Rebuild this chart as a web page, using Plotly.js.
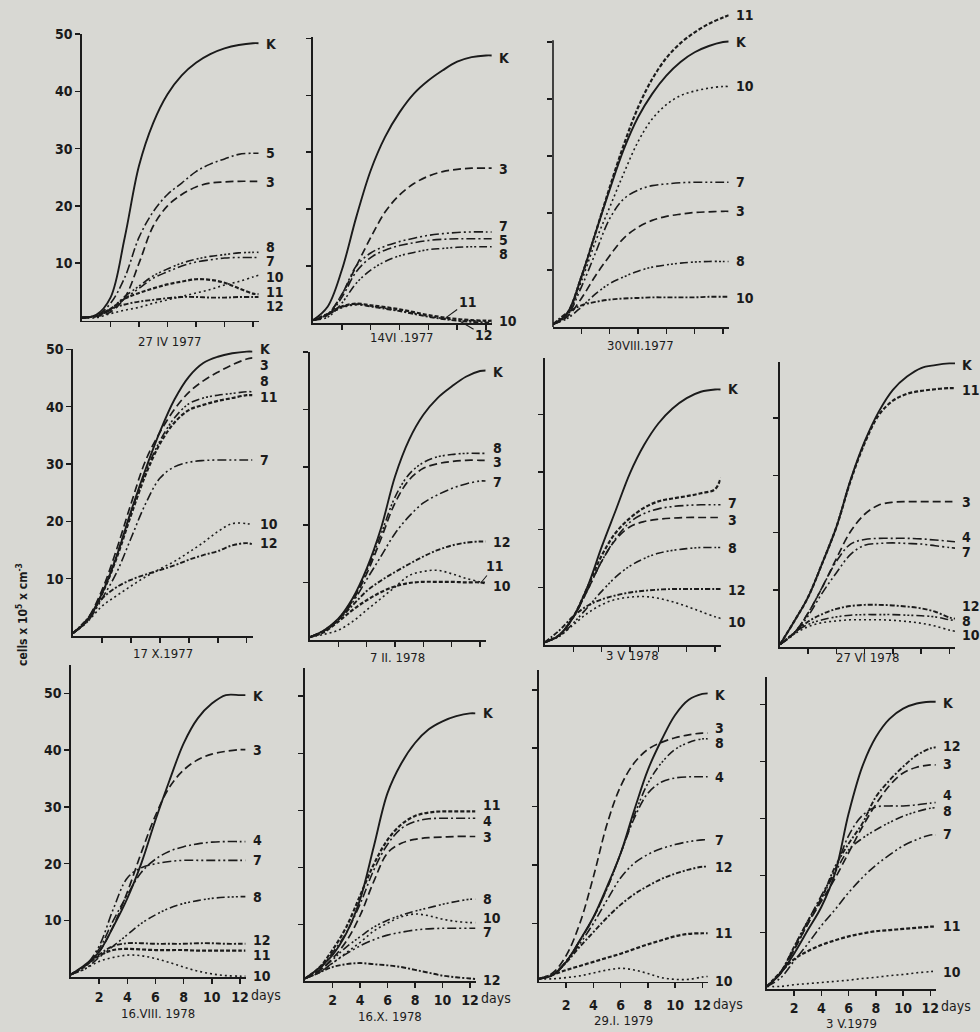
<!DOCTYPE html>
<html>
<head>
<meta charset="utf-8">
<script src="https://cdn.plot.ly/plotly-3.0.1.min.js"></script>
<style>
  html, body { margin: 0; padding: 0; background: #d8d8d3; }
  #chart { width: 980px; height: 1032px; }
</style>
</head>
<body>
<div id="chart"></div>
<script>
// ---------- data (cells x 10^5 x cm^-3 vs. days) ----------
const DAYS = [0,1,2,3,4,5,6,7,8,9,10,11,12,12.4];
const DAY_TICKS = [2,4,6,8,10,12];
const CELL_TICKS = [10,20,30,40,50];
const CELL_TICK_TEXT = ['10','20','30','40','50'];

// 27 IV 1977
const p1_K  = [0.5,1,4,14.5,27,34.5,39.5,42.8,45,46.5,47.5,48.1,48.4,48.4];
const p1_5  = [0.5,0.8,3,7.5,14.5,19,22,24,26,27.3,28.2,29,29.2,29.2];
const p1_3  = [0.5,0.7,1.5,4,10,16.5,20,22,23.3,24,24.2,24.3,24.3,24.3];
const p1_8  = [0.5,0.8,2,4.2,6,7.8,9,10,10.7,11.2,11.5,11.8,11.9,11.9];
const p1_7  = [0.5,0.8,1.8,3.8,5.6,7.4,8.5,9.5,10.2,10.6,10.9,11,11,11];
const p1_10 = [0.5,0.5,1.2,1.8,2.3,3,3.6,4.2,4.8,5.4,6.2,6.8,7.6,7.9];
const p1_11 = [0.5,0.8,2,3.8,4.8,5.6,6.3,6.8,7.2,7.1,6.6,5.6,4.7,4.6];
const p1_12 = [0.5,0.8,2,2.8,3.3,3.6,3.9,4.1,4.1,4,4,4.1,4.1,4.1];
// 14 VI 1977
const p2_K  = [0.5,2.8,9.3,18.6,26.8,32.7,37,40.3,42.6,44.4,45.9,46.7,47,47];
const p2_3  = [0.5,1.5,5,10,15,19.5,22.5,24.5,25.8,26.6,27,27.2,27.2,27.2];
const p2_7  = [0.5,1.5,5,10,12.3,13.5,14.3,14.9,15.4,15.7,15.9,16,16,16];
const p2_5  = [0.5,1.3,4.5,9,11.5,12.8,13.6,14.1,14.5,14.7,14.8,14.8,14.8,14.8];
const p2_8  = [0.5,1,3.5,7,9.3,10.8,11.8,12.4,12.9,13.1,13.3,13.4,13.4,13.4];
const p2_11 = [0.5,1.6,2.9,3.4,3.1,2.8,2.4,1.9,1.4,1,0.7,0.5,0.4,0.4];
const p2_10 = [0.5,1.4,2.7,3.2,3,2.6,2.2,1.7,1.2,0.8,0.5,0.4,0.3,0.3];
const p2_12 = [0.5,1.5,2.8,3.3,2.9,2.5,2.1,1.6,1.1,0.7,0.4,0.2,0.1,0.1];
// 30 VIII 1977
const p3_11  = [0.5,2.4,8.8,16.5,24.5,32,38.5,43.5,47.2,49.8,51.7,53.2,54.3,54.7];
const p3_K   = [0.5,2.4,8.8,16.5,24.1,31.2,36.8,40.9,44.1,46.5,48.2,49.3,50,50.1];
const p3_10a = [0.5,2,8,15,21,27,32.5,36.5,39,40.6,41.4,41.9,42.2,42.2];
const p3_7   = [0.5,2,7,13,19,22.5,24,24.8,25.1,25.3,25.4,25.4,25.4,25.4];
const p3_3   = [0.5,1.8,5,9,12.5,15.6,17.5,18.7,19.4,19.8,20.1,20.2,20.3,20.3];
const p3_8   = [0.5,1.5,3.5,5.8,7.6,8.8,9.8,10.5,10.9,11.2,11.4,11.5,11.5,11.5];
const p3_10b = [0.5,2.5,3.8,4.4,4.8,5,5.1,5.2,5.2,5.2,5.2,5.3,5.3,5.3];
// 17 X 1977
const p4_K  = [0.5,2.8,7.4,13.8,21.7,29,35.6,41.2,45.2,47.6,48.7,49.3,49.6,49.6];
const p4_3  = [0.5,3,8,15,23,30.5,35.5,39.5,42.5,44.5,46,47.3,48.3,48.5];
const p4_8  = [0.5,2.8,7.5,14,21.5,28.5,34,38,40.5,41.5,42,42.3,42.6,42.6];
const p4_11 = [0.5,2.8,7.3,13.5,21,28,33.5,37.2,39.4,40.3,41,41.5,42,42];
const p4_7  = [0.5,2.5,6.5,11,17,23,27.5,29.5,30.3,30.6,30.7,30.7,30.7,30.7];
const p4_10 = [0.5,2.5,5.2,7,8.7,10.3,11.7,13,14.6,16.3,18.2,19.6,19.6,19.4];
const p4_12 = [0.5,3,6.5,8.5,9.8,10.7,11.5,12.3,13.3,14.1,14.8,15.8,16.2,16];
// 7 II 1978
const p5_K  = [0.5,1.7,3.7,7.2,12.4,19.3,28.4,34.8,39.1,42,44,45.7,46.7,46.8];
const p5_8  = [0.5,1.7,3.7,7,12,18.3,24.8,28.8,30.8,31.8,32.2,32.4,32.4,32.4];
const p5_3  = [0.5,1.6,3.5,6.8,11.5,17.5,23.8,27.8,29.8,30.6,31,31.2,31.2,31.2];
const p5_7  = [0.5,1.5,3.5,6.5,10.5,14.5,18.5,21.5,23.8,25.2,26.3,27.1,27.6,27.6];
const p5_12 = [0.5,1.5,3.5,6,8.5,10.3,11.8,13.2,14.5,15.6,16.4,16.9,17.1,17.1];
const p5_10 = [0.5,1,1.7,3.2,5.2,7.2,9.2,11.2,11.9,12.1,11.5,10.7,10.1,10];
const p5_11 = [0.5,1.4,3.2,5.2,6.9,8.3,9.3,9.9,10.1,10.1,10.1,10,10,9.8];
// 3 V 1978
const p6_K  = [0.5,1.7,4.9,10.1,17,23.4,29.8,34.7,38.4,41,42.8,43.9,44.3,44.3];
const p6_11 = [0.5,1.7,4.9,10,15.5,19.5,22,23.8,24.9,25.4,25.8,26.3,27,29];
const p6_7  = [0.5,1.7,4.8,9.5,14.5,18.5,21.3,22.8,23.6,24,24.2,24.3,24.3,24.3];
const p6_3  = [0.5,1.7,4.8,9.5,14.5,18.3,20.5,21.4,21.8,22,22.1,22.1,22.1,22.1];
const p6_8  = [0.5,1.5,3.8,6.5,9.3,11.8,13.7,15,15.9,16.4,16.7,16.9,16.9,16.9];
const p6_12 = [0.5,2.5,5,6.8,7.9,8.6,9.1,9.4,9.6,9.7,9.7,9.7,9.7,9.7];
const p6_10 = [0.5,1.5,3.5,5.5,7,7.9,8.3,8.4,8.1,7.5,6.7,5.8,4.9,4.6];
// 27 VI 1978
const p7_K  = [0.5,4.5,8.8,14.7,21,29.2,35.9,41.1,44.9,47.2,48.7,49.2,49.5,49.5];
const p7_11 = [0.5,4.5,8.8,14.7,21,29,35.6,40.5,43,44.2,44.7,45,45.2,45.2];
const p7_3  = [0.5,2.5,6,10.5,15.5,20.2,23.2,24.8,25.3,25.4,25.4,25.4,25.4,25.4];
const p7_4  = [0.5,2.5,6,10.5,15,18,18.8,19,19,19,18.9,18.7,18.5,18.4];
const p7_7  = [0.5,2.3,5.5,9.5,13,16.2,17.8,18.1,18.2,18.1,18,17.7,17.4,17.3];
const p7_12 = [0.5,2.5,4.5,5.8,6.7,7.2,7.4,7.4,7.3,7.1,6.8,6.2,5.2,5];
const p7_8  = [0.5,2.5,4,4.8,5.3,5.6,5.7,5.7,5.7,5.6,5.5,5.3,4.8,4.7];
const p7_10 = [0.5,2.3,3.6,4.3,4.6,4.8,4.8,4.8,4.7,4.5,4.2,3.7,3,2.8];
// 16 VIII 1978
const p8_K  = [0.5,2.2,4.5,8.9,13.9,20.1,27.7,34.7,41.2,45.6,48.2,49.7,49.7,49.7];
const p8_3  = [0.5,2,4.5,9,15,22,28.5,33.5,36.5,38.3,39.3,39.8,40.1,40.1];
const p8_4  = [0.5,2,5,10,14.5,18.5,20.8,22.2,23,23.5,23.8,23.9,23.9,23.9];
const p8_7  = [0.5,2,5.5,12,17.5,19.3,20,20.4,20.6,20.6,20.6,20.6,20.6,20.6];
const p8_8  = [0.5,1.5,3.5,5.5,7.5,9.5,11,12.2,13,13.5,13.9,14.1,14.2,14.2];
const p8_12 = [0.5,2,4,5.5,6,6,5.9,5.9,5.9,6,6,5.9,5.9,5.9];
const p8_11 = [0.5,2,3.8,4.8,5,4.9,4.8,4.8,4.8,4.7,4.7,4.7,4.7,4.7];
const p8_10 = [0.5,1.5,2.8,3.5,3.9,3.8,3.3,2.6,1.8,1.1,0.6,0.3,0.2,0.2];
// 16 X 1978
const p9_K  = [0.5,2.3,4.6,8.4,14.3,23.6,33,38.2,41.8,44.2,45.6,46.5,47,47];
const p9_11 = [0.5,2.3,5.5,9.5,15,20.5,24.8,27.5,29,29.6,29.8,29.8,29.8,29.8];
const p9_4  = [0.5,2,5,8.5,13.5,19.5,24,26.8,28,28.5,28.6,28.6,28.6,28.6];
const p9_3  = [0.5,1.8,4,7,11.5,17.5,22.5,24.2,24.9,25.2,25.3,25.4,25.4,25.4];
const p9_8  = [0.5,1.8,3.8,6,7.8,9.5,10.7,11.6,12.3,12.9,13.5,14,14.4,14.4];
const p9_10 = [0.5,1.5,3.2,5,6.8,8.8,10.2,11.3,11.8,11.5,10.9,10.5,10.3,10.3];
const p9_7  = [0.5,1.5,3.2,4.8,6.2,7.3,8.1,8.6,9,9.2,9.3,9.3,9.3,9.3];
const p9_12 = [0.5,1.5,2.5,3,3.2,3,2.8,2.5,2,1.5,1,0.7,0.5,0.4];
// 29 I 1979
const p10_K  = [0.5,1.1,3.4,7.1,11.1,16.3,22,29.4,36.3,41.4,45.7,48.3,49.3,49.4];
const p10_3  = [0.5,1.5,4.5,10,18,27,33.5,37.5,39.8,41,41.8,42.3,42.6,42.6];
const p10_8  = [0.5,1.2,3.5,7,11,16,22,28.5,34,37.5,39.8,41,41.6,41.6];
const p10_4  = [0.5,1.2,3.5,7,11,16,22,28,32.3,34.2,34.9,35.1,35.1,35.1];
const p10_7  = [0.5,1.2,3.5,6.5,10,14,17.8,20.3,21.8,22.8,23.5,24,24.3,24.3];
const p10_12 = [0.5,1.2,3.3,6,8.5,11,13.2,15,16.4,17.6,18.5,19.2,19.7,19.7];
const p10_11 = [0.5,1.2,2,2.7,3.4,4.1,4.8,5.6,6.4,7.1,7.8,8.2,8.3,8.3];
const p10_10 = [0.5,0.5,0.7,1,1.5,2,2.3,2,1.4,0.7,0.4,0.4,0.8,0.9];
// 3 V 1979
const p11_K  = [0.5,2.8,6.3,10.4,14.5,20.4,30.9,39.1,44.3,47.5,49.3,50.2,50.5,50.5];
const p11_12 = [0.5,3,7.5,12,16,21.5,25.6,29.1,33.8,36.7,39.1,41.1,42.3,42.5];
const p11_3  = [0.5,2.8,7,11.5,15.5,19.5,24,28.5,32.5,35.8,38,39,39.4,39.4];
const p11_4  = [0.5,3,7.5,12,16.5,21,27,30.5,32,32.2,32.2,32.4,32.7,32.8];
const p11_8  = [0.5,3,7,11.5,16,20.5,24.5,26.5,28,29.3,30.4,31.2,31.8,31.9];
const p11_7  = [0.5,2,5,8,11.2,14,17,19.6,21.8,23.6,25.2,26.3,27.1,27.1];
const p11_11 = [0.5,3,5.3,6.7,7.8,8.6,9.3,9.8,10.2,10.4,10.6,10.8,11,11];
const p11_10 = [0.5,0.5,0.8,1,1.2,1.4,1.6,1.9,2.1,2.4,2.6,2.9,3.1,3.2];

const DATES = ['27 IV 1977','14VI .1977','30VIII.1977','17 X.1977','7 II. 1978','3 V 1978',
               '27 VI 1978','16.VIII. 1978','16.X. 1978','29.I. 1979','3 V.1979'];

// ---------- styles ----------
const INK = '#1b1b1b';
const BG = '#d8d8d3';
const FONT = 'Liberation Sans Narrow, DejaVu Sans Condensed, Arial Narrow, sans-serif';
const STY = {
  solid:  {dash:'solid', width:1.9},
  dash:   {dash:'8px,4px', width:1.7},
  dd1:    {dash:'9px,3px,2px,3px', width:1.6},
  dd2:    {dash:'9px,3px,2px,3px,2px,3px', width:1.6},
  dd3:    {dash:'8px,3px,2px,2px,2px,2px,2px,3px', width:1.6},
  dot:    {dash:'2px,3px', width:1.6},
  wavy:   {dash:'4px,2px', width:2.2},
  wavyd:  {dash:'5px,2px,2px,2px', width:1.9}
};
const LABEL_FONT = {family: FONT, size: 14, color: INK, weight: 'bold'};
const TICK_FONT = {family: FONT, size: 14, color: INK, weight: 'bold'};
const DATE_FONT = {family: FONT, size: 13, color: INK};

// ---------- panel table (series + label placement + pixel frame) ----------
// frame: [left, right, top, bottom] pixels; yTop = axis range top
const PANELS = [
  {frame:[82,258.7,33.5,320.5], yTop:50.1, dateDy:21, ticklab:false, ylab:true, series:[
    ['K',p1_K,'solid',48.3],['5',p1_5,'dd1',29.2],['3',p1_3,'dash',24.1],['8',p1_8,'dd3',12.8],
    ['7',p1_7,'dd2',10.3],['10',p1_10,'dot',7.6],['11',p1_11,'wavy',4.9],['12',p1_12,'wavyd',2.5]]},
  {frame:[313,491.8,36.7,323], yTop:50.3, dateDy:14, ticklab:false, ylab:false, series:[
    ['K',p2_K,'solid',46.5],['3',p2_3,'dash',27.1],['7',p2_7,'dd2',17.1],['5',p2_5,'dd1',14.6],
    ['8',p2_8,'dd3',12.1],['11',p2_11,'wavy',null,[9.2,0.9,22,-16]],['10',p2_10,'dot',0.3],
    ['12',p2_12,'wavyd',null,[10.2,0.3,24,14]]]},
  {frame:[553,728.7,7.8,327], yTop:56, axisTop:50.3, dateDy:18, ticklab:false, ylab:false, series:[
    ['11',p3_11,'wavy',54.7],['K',p3_K,'solid',50],['10',p3_10a,'dot',42.2],['7',p3_7,'dd2',25.4],
    ['3',p3_3,'dash',20.3],['8',p3_8,'dd3',11.5],['10',p3_10b,'wavyd',5.1]]},
  {frame:[73,252.5,349.3,636], yTop:50, dateDy:17, ticklab:false, ylab:true, series:[
    ['K',p4_K,'solid',50],['3',p4_3,'dash',47.3],['8',p4_8,'dd3',44.4],['11',p4_11,'wavy',41.6],
    ['7',p4_7,'dd2',30.7],['10',p4_10,'dot',19.5],['12',p4_12,'wavyd',16.2]]},
  {frame:[310,485.7,352,640], yTop:50, dateDy:17, ticklab:false, ylab:false, series:[
    ['K',p5_K,'solid',46.5],['8',p5_8,'dd3',33.4],['3',p5_3,'dash',30.9],['7',p5_7,'dd2',27.4],
    ['12',p5_12,'wavyd',17],['11',p5_11,'wavy',null,[12.05,9.9,14,-17]],['10',p5_10,'dot',9.4]]},
  {frame:[545,720.7,358.3,645], yTop:49.7, dateDy:10, ticklab:false, ylab:false, series:[
    ['K',p6_K,'solid',44.4],['11',p6_11,'wavy',null],['7',p6_7,'dd2',24.6],['3',p6_3,'dash',21.6],
    ['8',p6_8,'dd3',16.8],['12',p6_12,'wavyd',9.6],['10',p6_10,'dot',4]]},
  {frame:[780,955,361.7,647.3], yTop:49.8, dateDy:10, ticklab:false, ylab:false, series:[
    ['K',p7_K,'solid',49.3],['11',p7_11,'wavy',44.9],['3',p7_3,'dash',25.4],['4',p7_4,'dd1',19.3],
    ['7',p7_7,'dd2',16.6],['12',p7_12,'wavyd',7.2],['8',p7_8,'dd3',4.6],['10',p7_10,'dot',2.2]]},
  {frame:[71,245.6,665,977.3], yTop:55, dateDy:36, labDy:18, ticklab:true, ylab:true, series:[
    ['K',p8_K,'solid',49.5],['3',p8_3,'dash',40],['4',p8_4,'dd1',24.1],['7',p8_7,'dd2',20.6],
    ['8',p8_8,'dd3',14.2],['12',p8_12,'wavyd',6.6],['11',p8_11,'wavy',4],['10',p8_10,'dot',0.2]]},
  {frame:[305,475.5,668.3,981.3], yTop:54.9, dateDy:35, labDy:13, ticklab:true, ylab:false, series:[
    ['K',p9_K,'solid',47],['11',p9_11,'wavy',30.9],['4',p9_4,'dd1',28.2],['3',p9_3,'dash',25.3],
    ['8',p9_8,'dd3',14.4],['10',p9_10,'dot',11.1],['7',p9_7,'dd2',8.6],['12',p9_12,'wavyd',0.2]]},
  {frame:[539,707.8,670,981.7], yTop:53.4, dateDy:39, labDy:22, ticklab:true, ylab:false, series:[
    ['K',p10_K,'solid',49.1],['3',p10_3,'dash',43.5],['8',p10_8,'dd3',40.9],['4',p10_4,'dd1',35],
    ['7',p10_7,'dd2',24.3],['12',p10_12,'wavyd',19.6],['11',p10_11,'wavy',8.3],['10',p10_10,'dot',0.2]]},
  {frame:[767,935.8,676.7,989.3], yTop:54.9, dateDy:34, labDy:17, ticklab:true, ylab:false, series:[
    ['K',p11_K,'solid',50.3],['12',p11_12,'wavyd',42.8],['3',p11_3,'dash',39.5],['4',p11_4,'dd1',34.1],
    ['8',p11_8,'dd3',31.4],['7',p11_7,'dd2',27.2],['11',p11_11,'wavy',11.2],['10',p11_10,'dot',3.1]]}
];

const W = 980, H = 1032;
const BASE_LAB = 17; // default tick-label centre offset below the axis, px
const traces = [];
const annotations = [];
const shapes = [];
const layout = {
  width: W, height: H,
  margin: {l:0, r:0, t:0, b:0},
  paper_bgcolor: BG, plot_bgcolor: BG,
  showlegend: false,
  font: {family: FONT, color: INK, size: 13}
};

PANELS.forEach((p, i) => {
  const n = i === 0 ? '' : String(i + 1);
  const xa = 'x' + n, ya = 'y' + n;
  const [l, r, t, b] = p.frame;
  const standoff = p.labDy ? Math.max(0, p.labDy - BASE_LAB) : 0;
  layout['xaxis' + n] = {
    domain: [l / W, r / W], anchor: ya, range: [0, 12.4],
    showgrid: false, zeroline: false, showline: true, linecolor: INK, linewidth: 1.6,
    ticks: 'outside', tickvals: DAY_TICKS, ticklen: 5, tickwidth: 1.5, tickcolor: INK,
    showticklabels: p.ticklab, ticklabelstandoff: standoff,
    tickfont: TICK_FONT, fixedrange: true
  };
  layout['yaxis' + n] = {
    domain: [1 - b / H, 1 - t / H], anchor: xa, range: [0, p.yTop],
    showgrid: false, zeroline: false, showline: !p.axisTop, linecolor: INK, linewidth: 1.6,
    ticks: 'outside', tickvals: CELL_TICKS, ticktext: CELL_TICK_TEXT, ticklen: 5, tickwidth: 1.5,
    tickcolor: INK, showticklabels: p.ylab, tickfont: TICK_FONT, fixedrange: true
  };
  if (p.axisTop) {
    shapes.push({type: 'line', xref: xa + ' domain', yref: ya, x0: 0, x1: 0, y0: 0, y1: p.axisTop,
                 line: {color: INK, width: 1.6}});
  }
  p.series.forEach(s => {
    const [name, vals, sty, labY, arrow] = s;
    traces.push({
      x: DAYS, y: vals, xaxis: xa, yaxis: ya, mode: 'lines', name: name,
      line: {color: INK, width: STY[sty].width, dash: STY[sty].dash, shape: 'spline', smoothing: 1},
      hoverinfo: 'skip', showlegend: false
    });
    if (arrow) {
      annotations.push({
        xref: xa, yref: ya, x: arrow[0], y: arrow[1], ax: arrow[2], ay: arrow[3],
        text: name, showarrow: true, arrowhead: 0, arrowwidth: 1.1, arrowcolor: INK,
        font: LABEL_FONT
      });
    } else if (labY !== null && labY !== undefined) {
      annotations.push({
        xref: xa + ' domain', x: 1, xshift: 5, xanchor: 'left',
        yref: ya, y: labY, yanchor: 'middle',
        text: name, showarrow: false, font: LABEL_FONT
      });
    }
  });
  // date caption under each panel
  annotations.push({
    xref: xa + ' domain', x: 0.5, yref: ya + ' domain', y: 0, yshift: -p.dateDy,
    xanchor: 'center', yanchor: 'middle', text: DATES[i], showarrow: false, font: DATE_FONT
  });
  if (p.ticklab) {
    annotations.push({
      xref: xa, x: 12, xshift: 9, xanchor: 'left', yref: ya + ' domain', y: 0,
      yshift: -(BASE_LAB + standoff), yanchor: 'middle', text: 'days', showarrow: false,
      font: {family: FONT, size: 14, color: INK}
    });
  }
});

annotations.push({
  xref: 'paper', yref: 'paper', x: 22 / W, y: 1 - 615 / H, xanchor: 'center', yanchor: 'middle',
  textangle: -90, text: 'cells x 10<sup>5</sup> x cm<sup>-3</sup>', showarrow: false,
  font: {family: 'DejaVu Sans Condensed, sans-serif', size: 12, color: INK, weight: 'bold'}
});

layout.annotations = annotations;
layout.shapes = shapes;

Plotly.newPlot('chart', traces, layout, {displayModeBar: false, staticPlot: true});
</script>
</body>
</html>
